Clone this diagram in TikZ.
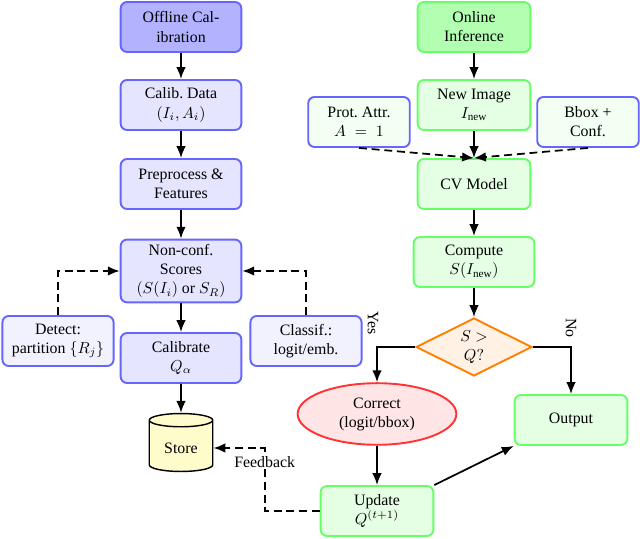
\documentclass[tikz,border=0pt]{standalone}
\usepackage{fontspec}
\setmainfont{Liberation Serif}
\usepackage{amsmath}
\usetikzlibrary{shapes.geometric,arrows.meta}

\tikzset{
  base/.style={rectangle, rounded corners=4pt, line width=1.2pt, align=center,
    minimum height=31.5pt, inner sep=3pt},
  offbox/.style={base, draw=blue!60, fill=blue!10, minimum width=76pt},
  offhead/.style={offbox, fill=blue!30},
  sidebox/.style={base, draw=blue!60, fill=blue!5, minimum width=70pt},
  onbox/.style={base, draw=green!60, fill=green!10, minimum width=71pt},
  onhead/.style={onbox, fill=green!30},
  inbox/.style={base, draw=blue!60, fill=green!5, minimum width=64pt},
  decide/.style={diamond, aspect=2, draw=orange, fill=orange!10, line width=1.2pt,
    align=center, inner sep=0pt, minimum width=73pt, minimum height=36.5pt},
  fix/.style={ellipse, draw=red!80, fill=red!10, line width=1.2pt, align=center,
    minimum width=100pt, minimum height=36.5pt},
  db/.style={cylinder, shape border rotate=90, aspect=0.3, draw, fill=yellow!20,
    line width=0.9pt, minimum width=40pt, minimum height=36.5pt},
  arr/.style={line width=1.1pt, -{Latex[length=7.5pt,width=6pt]}},
  dashline/.style={arr, dash pattern=on 5pt off 3pt},
}

\begin{document}
\begin{tikzpicture}[x=0.63pt, y=-0.63pt]
        \useasboundingbox (0,0) rectangle (640,539);
        % offline side
        \node[offhead] (off) at (181,27) {Offline Cal-\\ibration};
        \node[offbox] (cal) at (181,105) {Calib.\ Data\\$(I_i, A_i)$};
        \node[offbox] (pre) at (181,184) {Preprocess \&\\Features};
        \node[offbox] (nc) at (181,271) {Non-conf.\\Scores\\$(S(I_i)$ or $S_R)$};
        \node[sidebox] (det) at (58,341) {Detect:\\partition $\{R_j\}$};
        \node[offbox] (calq) at (181,358) {Calibrate\\$Q_\alpha$};
        \node[sidebox] (cls) at (306,341) {Classif.:\\logit/emb.};
        \node[db] (st) at (181,448) {Store};
        % online side
        \node[onhead] (on) at (474,27) {Online\\Inference};
        \node[onbox] (img) at (474,105) {New Image\\$I_{\text{new}}$};
        \node[inbox] (prot) at (359,122) {Prot.\ Attr.\\$A\;=\;1$};
        \node[inbox] (bb) at (588,122) {Bbox +\\Conf.};
        \node[onbox] (cv) at (474,184) {CV Model};
        \node[onbox, minimum width=76pt] (cmp) at (474,262) {Compute\\$S(I_{\text{new}})$};
        \node[decide] (dec) at (474,347) {$S>$\\$Q?$};
        \node[fix] (cor) at (377,414) {Correct\\(logit/bbox)};
        \node[onbox] (out) at (571,420) {Output};
        \node[onbox] (upd) at (377,511) {Update\\$Q^{(t+1)}$};
        % offline flow
        \draw[arr] (off) -- (cal);
        \draw[arr] (cal) -- (pre);
        \draw[arr] (pre) -- (nc);
        \draw[arr] (nc) -- (calq);
        \draw[arr] (calq) -- (st);
        \draw[dashline] (det.north) |- (nc.west);
        \draw[dashline] (cls.north) |- (nc.east);
        % online flow
        \draw[arr] (on) -- (img);
        \draw[arr] (img) -- (cv);
        \draw[dashline] (prot.south) -- (cv.north);
        \draw[dashline] (bb.south) -- (cv.north);
        \draw[arr] (cv) -- (cmp);
        \draw[arr] (cmp) -- (dec);
        \draw[arr] (dec.west) -| node[pos=0.5, xshift=-2.5pt, yshift=4pt, anchor=east, rotate=-90] {Yes} (cor.north);
        \draw[arr] (dec.east) -| node[pos=0.5, yshift=2pt, anchor=east, rotate=-90] {No} (out.north);
        \draw[arr] (cor) -- (upd);
        \draw[arr] (upd.north east) -- (out.south west);
        \draw[dashline] (upd.west) -- ++(-55,0) |- node[pos=0.39, fill=white, inner sep=1pt] {Feedback} (st.east);
    \end{tikzpicture}
\end{document}
